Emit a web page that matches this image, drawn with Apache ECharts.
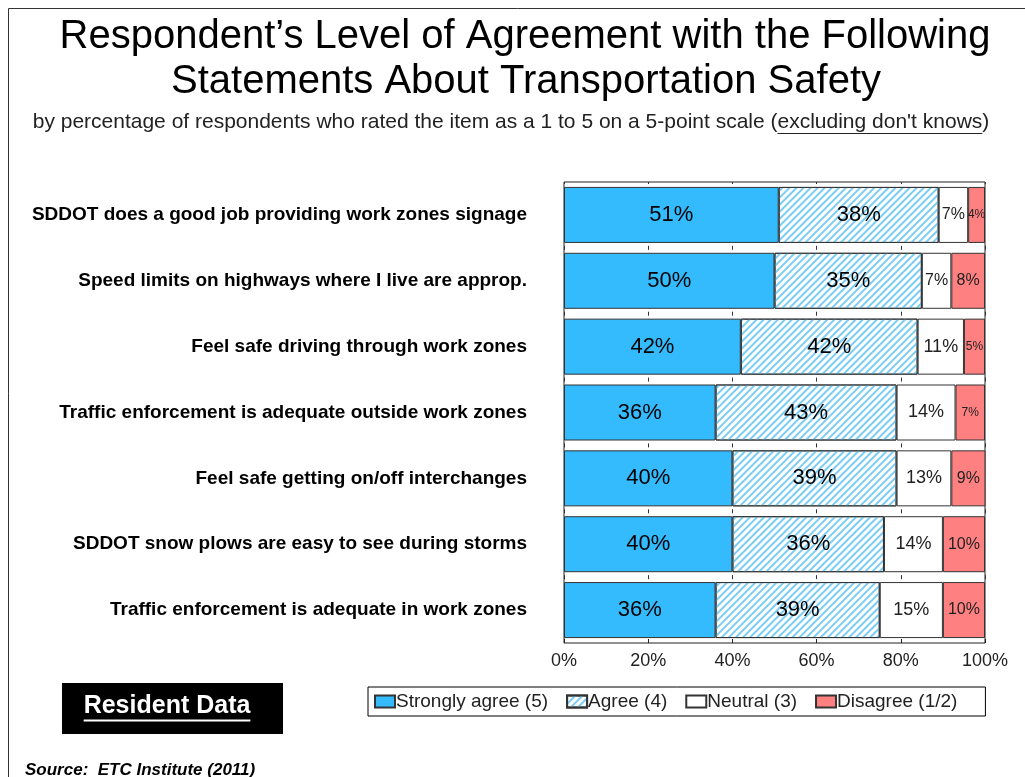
<!DOCTYPE html>
<html>
<head>
<meta charset="utf-8">
<script src="https://cdn.jsdelivr.net/npm/echarts@6/dist/echarts.min.js"></script>
<style>
  html, body { margin:0; padding:0; background:#fff; }
  #chart { width:1025px; height:777px; }
</style>
</head>
<body>
<div id="chart"></div>
<script>
const categories = [
  'SDDOT does a good job providing work zones signage',
  'Speed limits on highways where I live are approp.',
  'Feel safe driving through work zones',
  'Traffic enforcement is adequate outside work zones',
  'Feel safe getting on/off interchanges',
  'SDDOT snow plows are easy to see during storms',
  'Traffic enforcement is adequate in work zones'
];
const seriesNames = ['Strongly agree (5)', 'Agree (4)', 'Neutral (3)', 'Disagree (1/2)'];
const stronglyAgree = [51, 50, 42, 36, 40, 40, 36];
const agree = [38, 35, 42, 43, 39, 36, 39];
const neutral = [7, 7, 11, 14, 13, 14, 15];
const disagree = [4, 8, 5, 7, 9, 10, 10];
const xTicks = [0, 20, 40, 60, 80, 100];

const titleLine1 = 'Respondent\u2019s Level of Agreement with the Following';
const titleLine2 = 'Statements About Transportation Safety';
const subPrefix = 'by percentage of respondents who rated the item as a 1 to 5 on a 5-point scale ';
const subUnderlined = '(excluding don\'t knows)';
const boxText = 'Resident Data';
const sourceText = 'Source:  ETC Institute (2011)';

const FONT = 'Liberation Sans, Arial, sans-serif';

function measure(text, font) {
  const c = document.createElement('canvas').getContext('2d');
  c.font = font;
  return c.measureText(text).width;
}

const chart = echarts.init(document.getElementById('chart'));

const border = { borderColor: '#333', borderWidth: 1 };

function disagreeFont(v) { return v <= 7 ? 12 : 16; }
function neutralFont(v) { return v < 10 ? 16 : 18; }

const GRID_TOP = 182, GRID_BOTTOM = 134, CHART_H = 777;
const band = (CHART_H - GRID_TOP - GRID_BOTTOM) / categories.length;

const subFont = '21px ' + FONT;
const subFull = subPrefix + subUnderlined;
const subW = measure(subFull, subFont);
const subCx = 511;
const subStart = subCx - subW / 2;
const ulStart = subStart + measure(subPrefix, subFont) + measure('(', subFont);
const ulEnd = subStart + subW - measure(')', subFont);

const boxFont = 'bold 25px ' + FONT;
const boxW = measure(boxText, boxFont);
const boxCx = 167;

const option = {
  animation: false,
  backgroundColor: '#fff',
  grid: { left: 564, right: 40, top: GRID_TOP, bottom: GRID_BOTTOM, show: true, borderColor: '#222', borderWidth: 1, backgroundColor: '#fff' },
  xAxis: {
    type: 'value', min: 0, max: 100, interval: 20,
    axisLine: { show: false },
    axisTick: { show: true, inside: true, length: 4, lineStyle: { color: '#222' } },
    splitLine: { show: true, lineStyle: { color: '#333', width: 1, type: [4, band - 4], dashOffset: 2 } },
    axisLabel: { formatter: v => xTicks.includes(v) ? v + '%' : '', fontFamily: FONT, fontSize: 18, color: '#222', margin: 9 }
  },
  yAxis: {
    type: 'category', data: categories, inverse: true,
    axisLine: { show: false }, axisTick: { show: false },
    axisLabel: { fontFamily: FONT, fontSize: 19, fontWeight: 'bold', color: '#000', margin: 37 }
  },
  legend: {
    data: seriesNames,
    left: 368, top: 687, width: 640,
    orient: 'horizontal',
    itemWidth: 20, itemHeight: 12, itemGap: 18,
    borderColor: '#000', borderWidth: 1, borderRadius: 0,
    padding: [5, 28, 5, 6],
    textStyle: { fontFamily: FONT, fontSize: 19, color: '#222', padding: [0, 0, 0, -4] },
    icon: 'rect'
  },
  series: [
    {
      name: seriesNames[0], type: 'bar', stack: 'total', barWidth: 56,
      data: stronglyAgree,
      itemStyle: Object.assign({ color: '#33BBFE' }, border),
      label: { show: true, position: 'inside', formatter: '{c}%', fontFamily: FONT, fontSize: 22, color: '#000' }
    },
    {
      name: seriesNames[1], type: 'bar', stack: 'total', barWidth: 56,
      data: agree,
      itemStyle: Object.assign({
        color: '#fff',
        decal: { symbol: 'rect', color: '#7ccdf4', dashArrayX: [1, 0], dashArrayY: [1.2, 2.2], rotation: -Math.PI / 4 }
      }, border),
      label: { show: true, position: 'inside', formatter: '{c}%', fontFamily: FONT, fontSize: 22, color: '#000' }
    },
    {
      name: seriesNames[2], type: 'bar', stack: 'total', barWidth: 56,
      data: neutral.map(v => ({ value: v, label: { fontSize: neutralFont(v) } })),
      itemStyle: Object.assign({ color: '#fff' }, border),
      label: { show: true, position: 'inside', formatter: '{c}%', fontFamily: FONT, color: '#222' }
    },
    {
      name: seriesNames[3], type: 'bar', stack: 'total', barWidth: 56,
      data: disagree.map(v => ({ value: v, label: { fontSize: disagreeFont(v) } })),
      itemStyle: Object.assign({ color: '#FF8080' }, border),
      label: { show: true, position: 'inside', formatter: '{c}%', fontFamily: FONT, color: '#222' }
    }
  ],
  graphic: [
    { type: 'rect', shape: { x: 8.5, y: 8.5, width: 1100, height: 900 }, style: { fill: 'none', stroke: '#333', lineWidth: 1 }, z: 100 },
    { type: 'text', x: 525, y: 37, style: { text: titleLine1, fontFamily: FONT, fontSize: 40, fill: '#000', textAlign: 'center', textVerticalAlign: 'middle' } },
    { type: 'text', x: 526, y: 82, style: { text: titleLine2, fontFamily: FONT, fontSize: 40, fill: '#000', textAlign: 'center', textVerticalAlign: 'middle' } },
    { type: 'text', x: subCx, y: 122, style: { text: subFull, fontFamily: FONT, fontSize: 21, fill: '#222', textAlign: 'center', textVerticalAlign: 'middle' } },
    { type: 'line', shape: { x1: ulStart, y1: 133.5, x2: ulEnd, y2: 133.5 }, style: { stroke: '#222', lineWidth: 1 } },
    { type: 'rect', shape: { x: 62, y: 683, width: 221, height: 51 }, style: { fill: '#000' } },
    { type: 'text', x: boxCx, y: 706, style: { text: boxText, fontFamily: FONT, fontSize: 25, fontWeight: 'bold', fill: '#fff', textAlign: 'center', textVerticalAlign: 'middle' }, z: 10 },
    { type: 'line', shape: { x1: boxCx - boxW / 2, y1: 720.5, x2: boxCx + boxW / 2, y2: 720.5 }, style: { stroke: '#fff', lineWidth: 2 }, z: 10 },
    { type: 'text', x: 25, y: 770, style: { text: sourceText, fontFamily: FONT, fontSize: 17, fontWeight: 'bold', fontStyle: 'italic', fill: '#000', textAlign: 'left', textVerticalAlign: 'middle' } }
  ]
};
chart.setOption(option);
</script>
</body>
</html>
